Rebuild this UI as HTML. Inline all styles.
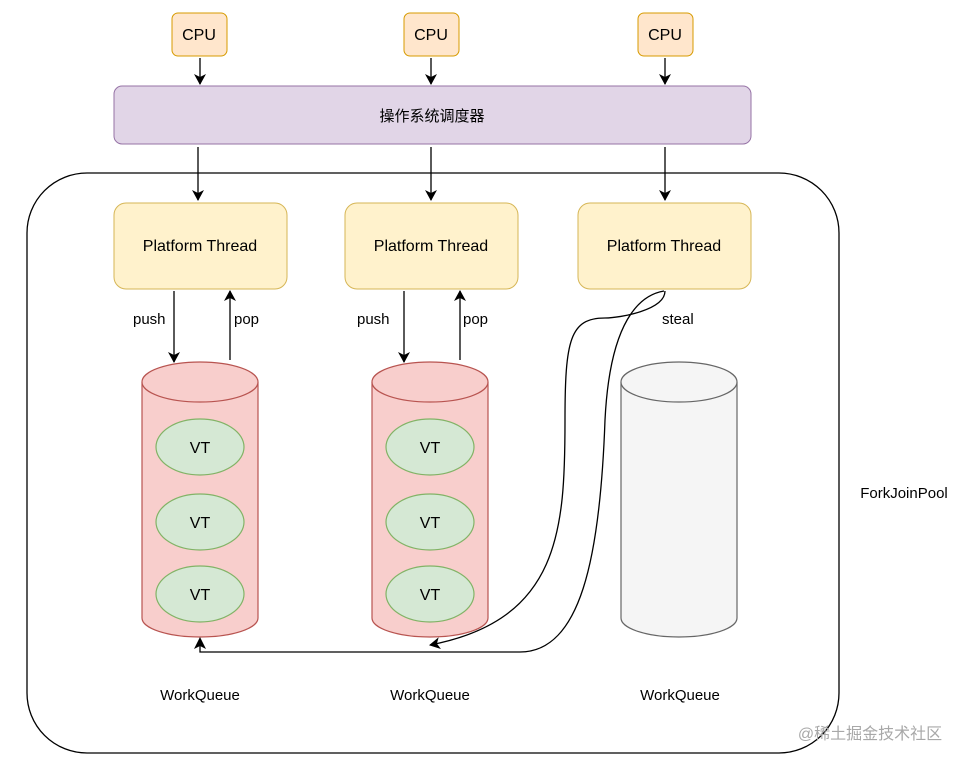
<!DOCTYPE html>
<html><head><meta charset="utf-8"><style>
body{margin:0;background:#fff;}
svg text{font-family:"Liberation Sans","Noto Sans CJK SC",sans-serif;}
</style></head><body>
<svg width="971" height="765" viewBox="0 0 971 765" xmlns="http://www.w3.org/2000/svg">
<defs>
<marker id="a" markerWidth="12" markerHeight="12" refX="10" refY="6" orient="auto" markerUnits="userSpaceOnUse">
<path d="M0,0 L11,6 L0,12 L3,6 Z" fill="#000"/></marker>
</defs>
<rect width="971" height="765" fill="#fff"/>
<rect x="27" y="173" width="812" height="580" rx="60" fill="none" stroke="#000" stroke-width="1.3"/>
<text x="904" y="498" font-size="15" text-anchor="middle">ForkJoinPool</text>
<g font-size="16" text-anchor="middle">
<rect x="172" y="13" width="55" height="43" rx="6" fill="#ffe6cc" stroke="#d79b00"/>
<text x="199" y="40">CPU</text>
<rect x="404" y="13" width="55" height="43" rx="6" fill="#ffe6cc" stroke="#d79b00"/>
<text x="431" y="40">CPU</text>
<rect x="638" y="13" width="55" height="43" rx="6" fill="#ffe6cc" stroke="#d79b00"/>
<text x="665" y="40">CPU</text>
</g>
<g stroke="#000" stroke-width="1.3" marker-end="url(#a)">
<line x1="200" y1="58" x2="200" y2="84"/>
<line x1="431" y1="58" x2="431" y2="84"/>
<line x1="665" y1="58" x2="665" y2="84"/>
<line x1="198" y1="147" x2="198" y2="200"/>
<line x1="431" y1="147" x2="431" y2="200"/>
<line x1="665" y1="147" x2="665" y2="200"/>
<line x1="174" y1="291" x2="174" y2="362"/>
<line x1="230" y1="360" x2="230" y2="291"/>
<line x1="404" y1="291" x2="404" y2="362"/>
<line x1="460" y1="360" x2="460" y2="291"/>
</g>
<rect x="114" y="86" width="637" height="58" rx="8" fill="#e1d5e7" stroke="#9673a6"/>
<text x="432" y="121" font-size="15" text-anchor="middle">操作系统调度器</text>
<g font-size="16" text-anchor="middle">
<rect x="114" y="203" width="173" height="86" rx="12" fill="#fff2cc" stroke="#d6b656"/>
<text x="200" y="251">Platform Thread</text>
<rect x="345" y="203" width="173" height="86" rx="12" fill="#fff2cc" stroke="#d6b656"/>
<text x="431" y="251">Platform Thread</text>
<rect x="578" y="203" width="173" height="86" rx="12" fill="#fff2cc" stroke="#d6b656"/>
<text x="664" y="251">Platform Thread</text>
</g>
<g font-size="15">
<text x="133" y="324">push</text><text x="234" y="324">pop</text>
<text x="357" y="324">push</text><text x="463" y="324">pop</text>
<text x="662" y="324">steal</text>
</g>
<g stroke="#b85450" stroke-width="1.2">
<path d="M142,382 L142,618 A58,19 0 0 0 258,618 L258,382" fill="#f8cecc"/>
<ellipse cx="200" cy="382" rx="58" ry="20" fill="#f8cecc"/>
<path d="M372,382 L372,618 A58,19 0 0 0 488,618 L488,382" fill="#f8cecc"/>
<ellipse cx="430" cy="382" rx="58" ry="20" fill="#f8cecc"/>
</g>
<g stroke="#666" stroke-width="1.2">
<path d="M621,382 L621,618 A58,19 0 0 0 737,618 L737,382" fill="#f5f5f5"/>
<ellipse cx="679" cy="382" rx="58" ry="20" fill="#f5f5f5"/>
</g>
<g fill="#d5e8d4" stroke="#82b366" stroke-width="1.2">
<ellipse cx="200" cy="447" rx="44" ry="28"/><ellipse cx="200" cy="522" rx="44" ry="28"/><ellipse cx="200" cy="594" rx="44" ry="28"/>
<ellipse cx="430" cy="447" rx="44" ry="28"/><ellipse cx="430" cy="522" rx="44" ry="28"/><ellipse cx="430" cy="594" rx="44" ry="28"/>
</g>
<g font-size="16" text-anchor="middle">
<text x="200" y="453">VT</text><text x="200" y="528">VT</text><text x="200" y="600">VT</text>
<text x="430" y="453">VT</text><text x="430" y="528">VT</text><text x="430" y="600">VT</text>
</g>
<g fill="none" stroke="#000" stroke-width="1.3">
<path d="M665,291 C665,310 620,318 605,318 C570,318 565,340 565,420 C565,530 560,620 430,645" marker-end="url(#a)"/>
<path d="M664,291 C640,295 610,320 605,420 C600,560 580,652 520,652 L200,652 L200,642" />
</g>
<path d="M194,649 L200,637 L206,649 L200,646 Z" fill="#000"/>
<g font-size="15" text-anchor="middle">
<text x="200" y="700">WorkQueue</text>
<text x="430" y="700">WorkQueue</text>
<text x="680" y="700">WorkQueue</text>
</g>
<text x="870" y="739" font-size="16" fill="#a8a8a8" text-anchor="middle">@稀土掘金技术社区</text>
</svg>
</body></html>
